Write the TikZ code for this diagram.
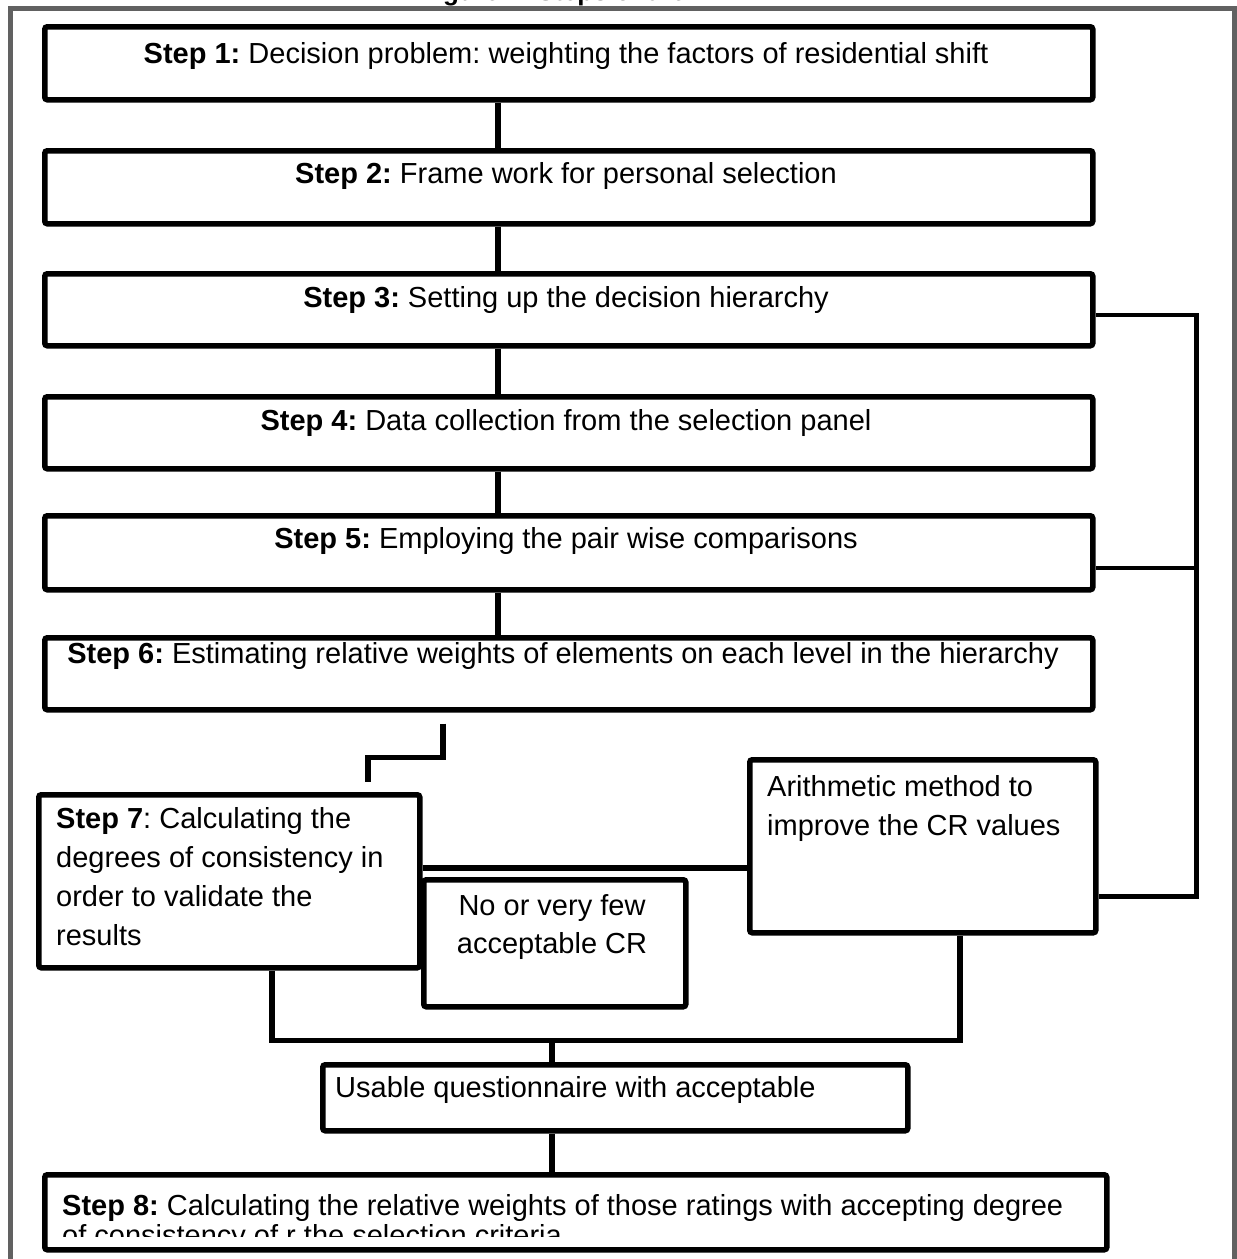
\documentclass[tikz,border=0pt]{standalone}
\usepackage{fontspec}
\setmainfont{Liberation Sans}
\usetikzlibrary{calc}
\frenchspacing
\begin{document}
\begin{tikzpicture}[x=1pt,y=-1pt,
  box/.style={draw=black, line width=5.5pt, rounded corners=2.5pt, fill=white, inner sep=0pt, anchor=north west},
  conn/.style={draw=black, line width=5.5pt},
  sidec/.style={draw=black, line width=4.5pt},
  txt/.style={font=\fontsize{29}{39}\selectfont, inner sep=0pt},
  frame/.style={draw=black!62, line width=5pt},
]
\useasboundingbox (0,0) rectangle (1237,1259);
\fill[white] (0,0) rectangle (1237,1259);
% outer frame and clipped title
\draw[frame] (10,1300) -- (10,8) -- (1234,8) -- (1234,1300);
\node[font=\bfseries\fontsize{26}{30}\selectfont, inner sep=0pt, anchor=base] (title) at (584,0) {Figure 1: Steps of the AHP};

% boxes
\node[box, minimum width=1048, minimum height=73] (s1) at (42,24) {};
\node[box, minimum width=1048, minimum height=73] (s2) at (42,148) {};
\node[box, minimum width=1048, minimum height=72] (s3) at (42,271) {};
\node[box, minimum width=1048, minimum height=72] (s4) at (42,394) {};
\node[box, minimum width=1048, minimum height=74] (s5) at (42,513) {};
\node[box, minimum width=1048, minimum height=72] (s6) at (42,635) {};
\node[box, minimum width=381, minimum height=173] (s7) at (36,792) {};
\node[box, minimum width=346, minimum height=173] (ar) at (747,757) {};
\node[box, minimum width=262, minimum height=127] (no) at (421,877) {};
\node[box, minimum width=585, minimum height=66] (us) at (320,1062) {};
\node[box, minimum width=1062, minimum height=75] (s8) at (42,1172) {};

% texts
\node[txt, anchor=base] (t1) at (566,63) {\textbf{Step 1:} Decision problem: weighting the factors of residential shift};
\node[txt, anchor=base] (t2) at (566,183) {\textbf{Step 2:} Frame work for personal selection};
\node[txt, anchor=base] (t3) at (566,307) {\textbf{Step 3:} Setting up the decision hierarchy};
\node[txt, anchor=base] (t4) at (566,430) {\textbf{Step 4:} Data collection from the selection panel};
\node[txt, anchor=base] (t5) at (566,548) {\textbf{Step 5:} Employing the pair wise comparisons};
\node[txt, anchor=base] (t6) at (563,663) {\textbf{Step 6:} Estimating relative weights of elements on each level in the hierarchy};

\node[txt, anchor=base west] (t7a) at (56,828) {\textbf{Step 7}: Calculating the};
\node[txt, anchor=base west] (t7b) at (56,867) {degrees of consistency in};
\node[txt, anchor=base west] (t7c) at (56,906) {order to validate the};
\node[txt, anchor=base west] (t7d) at (56,945) {results};

\node[txt, anchor=base west] (ara) at (767,796) {Arithmetic method to};
\node[txt, anchor=base west] (arb) at (767,835) {improve the CR values};

\node[txt, anchor=base] (noa) at (552,915) {No or very few};
\node[txt, anchor=base] (nob) at (552,953) {acceptable CR};

\node[txt, anchor=base west] (ust) at (335,1097) {Usable questionnaire with acceptable};

\begin{scope}
  \clip (42,1172) rectangle (1104,1236);
  \node[txt, anchor=base west] (t8a) at (62,1215) {\textbf{Step 8:} Calculating the relative weights of those ratings with accepting degree};
  \node[txt, anchor=base west] (t8b) at (62,1245) {of consistency of r the selection criteria};
\end{scope}

% connectors
\coordinate (vx) at (498,0);
\coordinate (bx) at (552,0);
\draw[conn] (vx |- s1.south) -- (vx |- s2.north);
\draw[conn] (vx |- s2.south) -- (vx |- s3.north);
\draw[conn] (vx |- s3.south) -- (vx |- s4.north);
\draw[conn] (vx |- s4.south) -- (vx |- s5.north);
\draw[conn] (vx |- s5.south) -- (vx |- s6.north);

\draw[sidec] ($(s3.east)+(0,5)$) -- ($(s3.east)+(101,5)$) |- ($(ar.east)+(0,50)$);
\draw[sidec] ($(s5.east)+(0,15)$) -- ($(s5.east)+(101,15)$);

\draw[conn] ($(s6.south west)+(401,11)$) -- ++(0,34) -| ($(s7.north west)+(332,-10)$);

\draw[conn] ($(s7.east)+(0,-13.5)$) -- ($(ar.west |- s7.east)+(0,-13.5)$);

\coordinate (br) at ($(s7.south west)+(236,70)$);
\draw[conn] (s7.south west -| br) -- (br) -| (ar.south west -| 960,0);
\draw[conn] (bx |- br) -- (bx |- us.north);
\draw[conn] (bx |- us.south) -- (bx |- s8.north);
\end{tikzpicture}
\end{document}
